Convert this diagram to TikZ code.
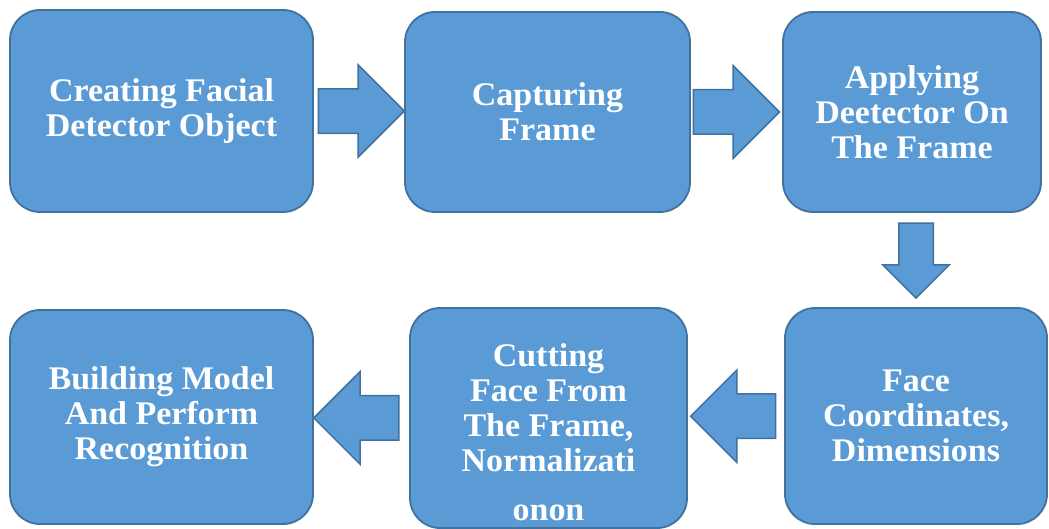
\documentclass[tikz,border=0pt]{standalone}
\usepackage{fontspec}
\newfontfamily\boxfont{Liberation Serif}[FakeStretch=1.03]
\usetikzlibrary{shapes.arrows}
\definecolor{boxfill}{HTML}{5B9BD5}
\definecolor{boxline}{HTML}{41719C}

\begin{document}
\begin{tikzpicture}[x=1pt,y=-1pt,
    box/.style={draw=boxline,fill=boxfill,line width=1.8pt,rounded corners=30pt},
    boxtext/.style={text=white,align=center,inner sep=0pt,
        font=\boxfont\bfseries\fontsize{33}{35}\selectfont},
    bigarrow/.style={single arrow,draw=boxline,fill=boxfill,line width=1.5pt,
        inner xsep=0pt,inner ysep=21.5pt,single arrow head extend=24pt,
        minimum height=86pt,anchor=tail}]
    \path[use as bounding box,fill=white] (0,0) rectangle (1049,529);
    % top row
    \node[box,boxtext,minimum width=303pt,minimum height=202pt] (detector) at (161.5,111) {Creating Facial\\Detector Object};
    \node[box,boxtext,minimum width=285pt,minimum height=200pt] (capture) at (547.5,112) {Capturing\\Frame};
    \node[box,boxtext,minimum width=258pt,minimum height=200pt] (apply) at (912,112) {Applying\\Deetector On\\The Frame};
    % bottom row
    \node[box,boxtext,minimum width=262pt,minimum height=216pt] (coords) at (916,416) {Face\\Coordinates,\\Dimensions};
    \node[box,minimum width=277pt,minimum height=220pt] (cutting) at (548.5,418) {};
    \node[boxtext] (cuttext) at ([yshift=-14pt]cutting.center) {Cutting\\Face From\\The Frame,\\Normalizati\\[14pt]onon};
    \node[box,boxtext,minimum width=303pt,minimum height=214pt] (model) at (161.5,417) {Building Model\\And Perform\\Recognition};
    % block arrows
    \path (detector.east) -- node[pos=0.04,bigarrow] (a1) {} (capture.west);
    \path (capture.east) -- node[pos=0.02,bigarrow] (a2) {} (apply.west);
    \path (coords.north |- apply.south) -- node[pos=0.1,bigarrow,shape border rotate=270,
        inner xsep=16.5pt,inner ysep=0pt,single arrow head extend=16pt,minimum height=75pt] (a3) {} (coords.north);
    \path (coords.west) -- node[pos=0.08,bigarrow,shape border rotate=180,minimum height=85pt] (a4) {} (cutting.east);
    \path (cutting.west) -- node[pos=0.1,bigarrow,shape border rotate=180,minimum height=85pt] (a5) {} (model.east);
\end{tikzpicture}
\end{document}
